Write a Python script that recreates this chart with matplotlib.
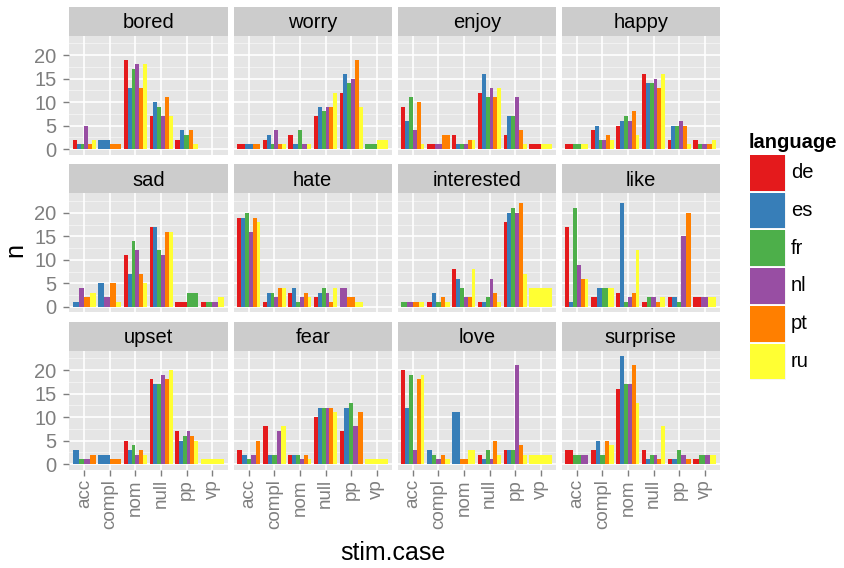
import matplotlib
matplotlib.use("Agg")
import matplotlib.pyplot as plt
from matplotlib.patches import Rectangle

plt.rcParams['font.family'] = ['Liberation Sans', 'DejaVu Sans']

categories = ["acc", "compl", "nom", "null", "pp", "vp"]
languages = ["de", "es", "fr", "nl", "pt", "ru"]
colors = ["#E41A1C", "#377EB8", "#4DAF4A", "#984EA3", "#FF7F00", "#FFFF33"]
emotions = ["bored", "worry", "enjoy", "happy", "sad", "hate", "interested",
            "like", "upset", "fear", "love", "surprise"]

# counts per category (rows) per language (de, es, fr, nl, pt, ru); 0 = absent
bored = [[2, 1, 1, 5, 1, 2], [0, 2, 0, 0, 1, 0], [19, 13, 17, 18, 13, 18],
         [7, 10, 9, 7, 11, 7], [2, 4, 3, 0, 4, 1], [0, 0, 0, 0, 0, 0]]
worry = [[1, 1, 0, 0, 1, 0], [2, 3, 1, 4, 1, 1], [3, 1, 4, 1, 0, 1],
         [7, 9, 8, 9, 9, 12], [12, 16, 14, 15, 19, 9], [0, 0, 1, 0, 0, 2]]
enjoy = [[9, 6, 11, 4, 10, 1], [1, 0, 0, 1, 3, 0], [3, 1, 1, 1, 2, 2],
         [12, 16, 11, 13, 11, 13], [3, 7, 7, 11, 4, 1], [1, 0, 0, 0, 0, 1]]
happy = [[1, 0, 1, 0, 0, 1], [4, 5, 2, 2, 3, 2], [5, 6, 7, 6, 8, 3],
         [16, 14, 14, 15, 13, 16], [2, 5, 5, 6, 5, 1], [2, 0, 1, 1, 1, 2]]
sad = [[0, 1, 0, 4, 2, 3], [0, 5, 0, 2, 5, 1], [11, 7, 14, 12, 7, 5],
       [17, 17, 12, 11, 16, 16], [1, 0, 3, 0, 0, 0], [1, 0, 1, 1, 0, 2]]
hate = [[19, 19, 20, 16, 19, 18], [1, 3, 3, 2, 4, 4], [3, 4, 1, 2, 3, 2],
        [2, 3, 4, 3, 1, 4], [0, 0, 0, 4, 2, 1], [0, 0, 0, 0, 0, 0]]
interested = [[0, 0, 1, 1, 1, 1], [1, 3, 1, 0, 2, 1], [8, 6, 4, 2, 2, 8],
              [1, 1, 2, 6, 3, 1], [18, 20, 21, 20, 22, 7], [0, 0, 0, 0, 0, 4]]
like = [[17, 1, 21, 9, 6, 6], [2, 4, 4, 0, 0, 4], [3, 22, 1, 2, 3, 12],
        [1, 0, 2, 2, 1, 2], [2, 2, 1, 15, 20, 0], [2, 0, 0, 2, 0, 2]]
upset = [[0, 3, 1, 1, 2, 0], [0, 2, 0, 0, 1, 0], [5, 3, 4, 2, 3, 2],
         [18, 17, 17, 19, 18, 20], [7, 5, 6, 7, 6, 5], [0, 0, 0, 0, 0, 1]]
fear = [[3, 2, 1, 2, 5, 0], [8, 2, 2, 7, 0, 8], [2, 2, 2, 1, 2, 1],
        [10, 12, 12, 12, 12, 11], [7, 12, 13, 8, 11, 0], [0, 0, 0, 0, 0, 1]]
love = [[20, 12, 19, 3, 18, 19], [0, 3, 2, 1, 2, 1], [0, 11, 0, 0, 1, 3],
        [2, 1, 3, 1, 5, 2], [3, 3, 3, 21, 4, 2], [0, 0, 0, 0, 0, 2]]
surprise = [[3, 0, 2, 2, 0, 0], [3, 5, 2, 0, 5, 4], [16, 23, 17, 17, 21, 13],
            [3, 1, 2, 2, 1, 8], [1, 1, 3, 2, 1, 0], [1, 0, 2, 2, 0, 2]]

panel_data = [bored, worry, enjoy, happy, sad, hate, interested, like,
              upset, fear, love, surprise]

W, H = 844, 568
fig = plt.figure(figsize=(W / 100, H / 100), dpi=100)
fig.patch.set_facecolor("white")

col_left = [69, 233.5, 397.5, 561.5]
panel_w = 158.5
row_top = [35.5, 193.3, 350.5]
panel_h = 119
strip_h = 29

ymax = max(max(max(r) for r in d) for d in panel_data)
ylo, yhi = -0.05 * ymax, ymax * 1.05
tick_col = "#7F7F7F"
small = 14.5

def fig_rect(x, y, w, h):
    return [x / W, 1 - (y + h) / H, w / W, h / H]

for idx, (emo, data) in enumerate(zip(emotions, panel_data)):
    r, c = divmod(idx, 4)
    ax = fig.add_axes(fig_rect(col_left[c], row_top[r], panel_w, panel_h))
    ax.set_facecolor("#E5E5E5")
    for s in ax.spines.values():
        s.set_visible(False)
    for yv in [2.5, 7.5, 12.5, 17.5, 22.5]:
        ax.axhline(yv, color="#F2F2F2", lw=0.7, zorder=0.5)
    for yv in [0, 5, 10, 15, 20]:
        ax.axhline(yv, color="white", lw=1.2, zorder=0.6)
    for xv in range(1, len(categories) + 1):
        ax.axvline(xv, color="white", lw=1.2, zorder=0.6)
    for ci, vals in enumerate(data):
        present = [(li, v) for li, v in enumerate(vals) if v > 0]
        k = len(present)
        if k == 0:
            continue
        bw = 0.9 / k
        for j, (li, v) in enumerate(present):
            xc = (ci + 1) - 0.45 + (j + 0.5) * bw
            ax.bar(xc, v, width=bw, color=colors[li], linewidth=0, zorder=2)
    ax.set_xlim(0.4, len(categories) + 0.6)
    ax.set_ylim(ylo, yhi)
    ax.set_xticks(range(1, len(categories) + 1))
    ax.set_yticks([0, 5, 10, 15, 20])
    ax.tick_params(colors=tick_col, length=4, width=1.0, labelsize=small,
                   labelcolor=tick_col, pad=3)
    ax.tick_params(axis="y", pad=5)
    if c == 0:
        ax.set_yticklabels(["0", "5", "10", "15", "20"])
    else:
        ax.tick_params(axis="y", length=0, labelleft=False)
    if r == 2:
        ax.set_xticklabels(categories, rotation=90)
        ax.tick_params(axis="x", labelsize=13.5)
    else:
        ax.tick_params(axis="x", length=0, labelbottom=False)
    # strip
    sax = fig.add_axes(fig_rect(col_left[c], row_top[r] - strip_h, panel_w, strip_h))
    sax.set_facecolor("#CCCCCC")
    sax.set_xticks([])
    sax.set_yticks([])
    for s in sax.spines.values():
        s.set_visible(False)
    sax.text(0.5, 0.45, emo, ha="center", va="center", fontsize=small,
             color="black", transform=sax.transAxes)

# axis titles
fig.text(15 / W, 1 - 250 / H, "n", rotation=90, ha="center", va="center",
         fontsize=18)
fig.text(393 / W, 1 - 553 / H, "stim.case", ha="center", va="center",
         fontsize=18)

# legend
lax = fig.add_axes([0, 0, 1, 1], facecolor="none")
lax.set_xlim(0, W)
lax.set_ylim(H, 0)
lax.axis("off")
lax.text(749, 142, "language", fontsize=small, fontweight="bold",
         ha="left", va="center")
key_top, key_h = 154, 37.7
for i, (lab, colr) in enumerate(zip(languages, colors)):
    y0 = key_top + i * key_h
    lax.add_patch(Rectangle((749, y0), 37, key_h, facecolor="#F2F2F2",
                            edgecolor="white", lw=1))
    lax.add_patch(Rectangle((750, y0 + 1), 35, key_h - 2, facecolor=colr,
                            edgecolor="none"))
    lax.text(791, y0 + key_h / 2, lab, fontsize=small, ha="left", va="center")

fig.savefig("out.png", dpi=100)
